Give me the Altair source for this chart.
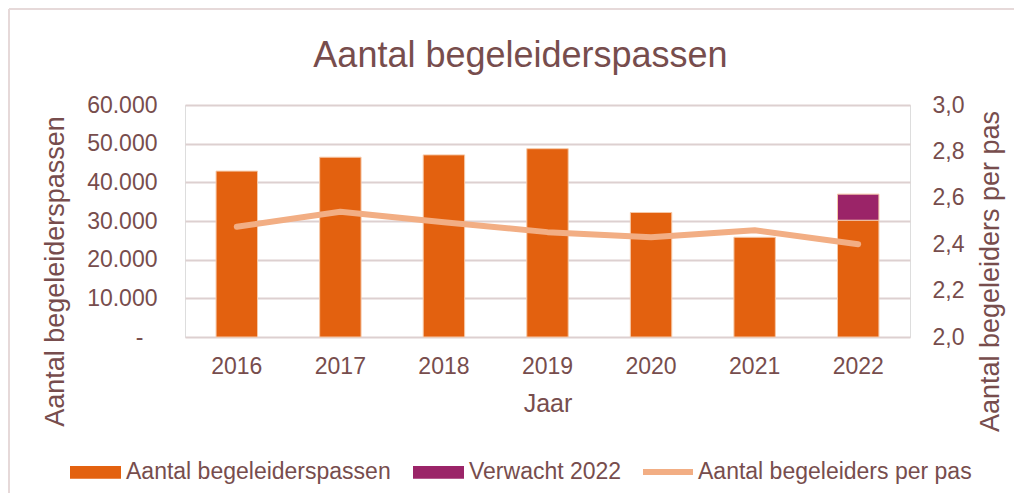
import altair as alt
import pandas as pd

jaren = ["2016", "2017", "2018", "2019", "2020", "2021", "2022"]
passen = [42900, 46500, 47100, 48700, 32200, 25800, 30200]
verwacht_jaar = ["2022"]
verwacht = [6750]
per_pas = [2.475, 2.54, 2.495, 2.452, 2.43, 2.46, 2.40]

links_ticks = [0, 10000, 20000, 30000, 40000, 50000, 60000]
rechts_ticks = [2.0, 2.2, 2.4, 2.6, 2.8, 3.0]

serie_namen = ["Aantal begeleiderspassen", "Verwacht 2022"]
lijn_naam = "Aantal begeleiders per pas"

ORANJE = "#E3610F"
PAARS = "#9B2468"
PERZIK = "#F2AE84"
TEKST = "#774D4D"
GRID = "#DDD0D0"
FONT = "Liberation Sans"

rows = []
for j, v in zip(jaren, passen):
    rows.append({"jaar": j, "serie": serie_namen[0], "waarde": v, "volg": 0})
for j, v in zip(verwacht_jaar, verwacht):
    rows.append({"jaar": j, "serie": serie_namen[1], "waarde": v, "volg": 1})
bars_df = pd.DataFrame(rows)

line_df = pd.DataFrame({"jaar": jaren, "lijn": [lijn_naam] * len(jaren), "waarde": per_pas})

x_enc = alt.X(
    "jaar:N",
    sort=jaren,
    scale=alt.Scale(paddingInner=0.6, paddingOuter=0.3),
    axis=alt.Axis(
        title="Jaar",
        titleFontSize=25,
        titleFont=FONT,
        titleFontWeight="normal",
        titleColor=TEKST,
        titleBaseline="middle",
        titleY=66,
        labelFontSize=23,
        labelFont=FONT,
        labelColor=TEKST,
        labelPadding=18,
        labelAngle=0,
        ticks=False,
        tickSize=0,
        domain=False,
        grid=False,
    ),
)

bars = (
    alt.Chart(bars_df)
    .mark_bar(stroke="#F6C9A8", strokeWidth=1)
    .encode(
        x=x_enc,
        y=alt.Y(
            "waarde:Q",
            stack="zero",
            scale=alt.Scale(domain=[0, 60000], nice=False, zero=True),
            axis=alt.Axis(
                orient="left",
                values=links_ticks,
                labelExpr="datum.value == 0 ? '-' : replace(format(datum.value, ',.0f'), ',', '.')",
                labelFontSize=23,
                labelFont=FONT,
                labelColor=TEKST,
                labelBaseline="middle",
                labelPadding=alt.condition("datum.value == 0", alt.value(42), alt.value(28)),
                ticks=False,
                tickSize=0,
                domain=False,
                grid=True,
                gridColor=GRID,
                gridWidth=1.8,
                title="Aantal begeleiderspassen",
                titleFontSize=27,
                titleFont=FONT,
                titleFontWeight="normal",
                titleColor=TEKST,
                titleAngle=-90,
                titleBaseline="middle",
                titleAlign="center",
                titleX=-130,
                titleY=166,
            ),
        ),
        fill=alt.Fill(
            "serie:N",
            scale=alt.Scale(domain=serie_namen, range=[ORANJE, PAARS]),
            legend=alt.Legend(
                title=None,
                orient="none",
                legendX=-115,
                legendY=341.5,
                direction="horizontal",
                symbolType="M-1,-0.25H1V0.25H-1Z",
                symbolSize=2601,
                symbolStrokeWidth=0,
                labelFontSize=23,
                labelFont=FONT,
                labelColor=TEKST,
                labelOffset=5,
                labelLimit=400,
                columnPadding=22,
            ),
        ),
        order=alt.Order("volg:Q"),
    )
)

line = (
    alt.Chart(line_df)
    .mark_line(strokeWidth=6, strokeCap="round", strokeJoin="round")
    .encode(
        x=x_enc,
        y=alt.Y(
            "waarde:Q",
            scale=alt.Scale(domain=[2.0, 3.0], nice=False, zero=False),
            axis=alt.Axis(
                orient="right",
                values=rechts_ticks,
                labelExpr="replace(format(datum.value, '.1f'), '.', ',')",
                labelFontSize=23,
                labelFont=FONT,
                labelColor=TEKST,
                labelBaseline="middle",
                labelPadding=22,
                ticks=False,
                tickSize=0,
                domain=False,
                grid=False,
                title=lijn_naam,
                titleFontSize=27,
                titleFont=FONT,
                titleFontWeight="normal",
                titleColor=TEKST,
                titleAngle=-90,
                titleBaseline="middle",
                titleAlign="center",
                titleX=80,
                titleY=166,
            ),
        ),
        stroke=alt.Stroke(
            "lijn:N",
            scale=alt.Scale(domain=[lijn_naam], range=[PERZIK]),
            legend=alt.Legend(
                title=None,
                orient="none",
                legendX=455,
                legendY=339,
                direction="horizontal",
                symbolType="M-1,0H1",
                symbolSize=2500,
                symbolStrokeWidth=6,
                labelFontSize=23,
                labelFont=FONT,
                labelColor=TEKST,
                labelOffset=2,
                labelLimit=400,
            ),
        ),
    )
)

rand_df = pd.DataFrame({"k": [0]})
rand_links = alt.Chart(rand_df).mark_rule(color="#E6D9D9", strokeWidth=2).encode(
    x=alt.value(-176), y=alt.value(-96), y2=alt.value(390)
)
rand_boven = alt.Chart(rand_df).mark_rule(color="#E6D9D9", strokeWidth=2).encode(
    x=alt.value(-176), x2=alt.value(830), y=alt.value(-96)
)

chart = (
    alt.layer(rand_links, rand_boven, bars, line)
    .resolve_scale(y="independent", fill="independent", stroke="independent")
    .properties(
        width=725,
        height=232,
        autosize="none",
        padding={"left": 177, "top": 97, "right": 104, "bottom": 156},
        title=alt.TitleParams(
            text="Aantal begeleiderspassen",
            fontSize=36,
            font=FONT,
            fontWeight="normal",
            color=TEKST,
            anchor="middle",
            frame="group",
            baseline="alphabetic",
            offset=0,
            dy=95,
            dx=-27,
        ),
    )
    .configure_view(stroke=None)
    .configure(background="white")
)

chart.save("out.html", embed_options={"renderer": "svg", "actions": False})
